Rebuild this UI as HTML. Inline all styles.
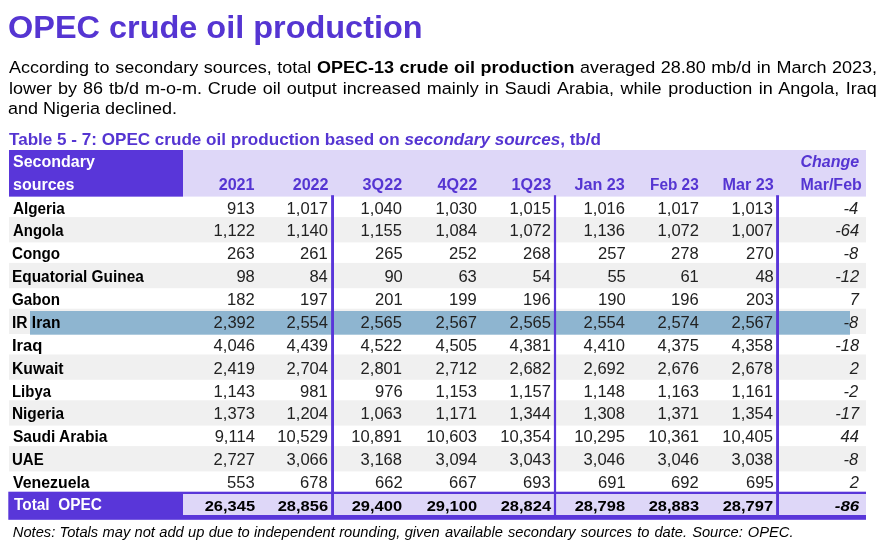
<!DOCTYPE html>
<html><head><meta charset="utf-8"><title>OPEC crude oil production</title>
<style>
html,body{margin:0;padding:0;background:#fff;}
body{width:883px;height:559px;position:relative;overflow:hidden;font-family:"Liberation Sans",sans-serif;color:#000;}
.bg{position:absolute;left:0;top:0;}
.t{position:absolute;white-space:nowrap;}
.bd{font-weight:bold;}
.it{font-style:italic;}
.bi{font-weight:bold;font-style:italic;}
</style></head><body>
<svg class="bg" width="883" height="559" viewBox="0 0 883 559">
<rect x="9.00" y="150.00" width="857.00" height="46.60" fill="#ded7f8"/>
<rect x="9.00" y="150.00" width="174.00" height="46.60" fill="#5936d9"/>
<rect x="9.00" y="217.10" width="857.00" height="25.30" fill="#f0f0f0"/>
<rect x="9.00" y="262.90" width="857.00" height="25.30" fill="#f0f0f0"/>
<rect x="9.00" y="308.70" width="857.00" height="25.30" fill="#f0f0f0"/>
<rect x="9.00" y="354.50" width="857.00" height="25.30" fill="#f0f0f0"/>
<rect x="9.00" y="400.30" width="857.00" height="25.30" fill="#f0f0f0"/>
<rect x="9.00" y="446.10" width="857.00" height="25.30" fill="#f0f0f0"/>
<rect x="30.00" y="311.00" width="820.00" height="23.70" fill="#8eb5d0"/>
<rect x="8.30" y="491.70" width="857.70" height="28.10" fill="#5936d9"/>
<rect x="183.00" y="494.00" width="683.00" height="21.00" fill="#ded7f8"/>
<rect x="331.10" y="195.20" width="2.90" height="323.80" fill="#5936d9"/>
<rect x="553.90" y="195.20" width="2.20" height="323.80" fill="#5936d9"/>
<rect x="776.10" y="195.20" width="2.90" height="323.80" fill="#5936d9"/>
</svg>
<div id="title" class="t bd" style="top:6.50px;font-size:31.5px;line-height:41px;left:8.40px;color:#5535d2;transform:scaleX(1.03);transform-origin:left center;">OPEC crude oil production</div>
<div id="p1" class="t " style="top:55.50px;font-size:17.4px;line-height:23px;left:8.60px;width:838.65px;text-align:justify;text-align-last:justify;transform:scaleX(1.035);transform-origin:left center;">According to secondary sources, total <b>OPEC-13 crude oil production</b> averaged 28.80 mb/d in March 2023,</div>
<div id="p2" class="t " style="top:76.50px;font-size:17.4px;line-height:23px;left:8.60px;width:523.48px;text-align:justify;text-align-last:justify;transform:scaleX(1.035);transform-origin:left center;">lower by 86 tb/d m-o-m. Crude oil output increased mainly in Saudi</div>
<div id="p2b" class="t " style="top:76.50px;font-size:17.4px;line-height:23px;left:556.70px;width:309.08px;text-align:justify;text-align-last:justify;transform:scaleX(1.035);transform-origin:left center;">Arabia, while production in Angola, Iraq</div>
<div id="p3" class="t " style="top:96.50px;font-size:17.4px;line-height:23px;left:8.30px;transform:scaleX(1.035);transform-origin:left center;">and Nigeria declined.</div>
<div id="cap" class="t bd" style="top:128.50px;font-size:16.2px;line-height:21px;left:8.90px;color:#5535d2;transform:scaleX(1.0552);transform-origin:left center;">Table 5 - 7: OPEC crude oil production based on <i>secondary sources</i>, tb/d</div>
<div id="h_sec" class="t bd" style="top:151.00px;font-size:16.0px;line-height:21px;left:13.00px;color:#fff;">Secondary</div>
<div id="h_src" class="t bd" style="top:174.00px;font-size:16.0px;line-height:21px;left:13.00px;color:#fff;">sources</div>
<div id="h0" class="t bd" style="top:174.00px;font-size:16.0px;line-height:21px;right:628.70px;color:#5535d2;transform:scaleX(1.01);transform-origin:right center;">2021</div>
<div id="h1" class="t bd" style="top:174.00px;font-size:16.0px;line-height:21px;right:554.20px;color:#5535d2;transform:scaleX(1.01);transform-origin:right center;">2022</div>
<div id="h2" class="t bd" style="top:174.00px;font-size:16.0px;line-height:21px;right:480.70px;color:#5535d2;transform:scaleX(1.01);transform-origin:right center;">3Q22</div>
<div id="h3" class="t bd" style="top:174.00px;font-size:16.0px;line-height:21px;right:406.20px;color:#5535d2;transform:scaleX(1.01);transform-origin:right center;">4Q22</div>
<div id="h4" class="t bd" style="top:174.00px;font-size:16.0px;line-height:21px;right:332.20px;color:#5535d2;transform:scaleX(1.01);transform-origin:right center;">1Q23</div>
<div id="h5" class="t bd" style="top:174.00px;font-size:16.0px;line-height:21px;right:258.00px;color:#5535d2;transform:scaleX(1.01);transform-origin:right center;">Jan 23</div>
<div id="h6" class="t bd" style="top:174.00px;font-size:16.0px;line-height:21px;right:184.00px;color:#5535d2;transform:scaleX(0.96);transform-origin:right center;">Feb 23</div>
<div id="h7" class="t bd" style="top:174.00px;font-size:16.0px;line-height:21px;right:109.70px;color:#5535d2;transform:scaleX(1.01);transform-origin:right center;">Mar 23</div>
<div id="h_chg" class="t bi" style="top:151.00px;font-size:16.0px;line-height:21px;right:23.90px;color:#5535d2;">Change</div>
<div id="h_mf" class="t bd" style="top:174.00px;font-size:16.0px;line-height:21px;right:21.20px;color:#5535d2;">Mar/Feb</div>
<div id="r0" class="t bd" style="top:198.00px;font-size:16.0px;line-height:21px;left:12.80px;color:#000;transform:scaleX(0.953);transform-origin:left center;">Algeria</div>
<div id="r0c0" class="t " style="top:198.00px;font-size:16.0px;line-height:21px;right:628.40px;color:#222;transform:scaleX(1.035);transform-origin:right center;">913</div>
<div id="r0c1" class="t " style="top:198.00px;font-size:16.0px;line-height:21px;right:555.00px;color:#222;transform:scaleX(1.035);transform-origin:right center;">1,017</div>
<div id="r0c2" class="t " style="top:198.00px;font-size:16.0px;line-height:21px;right:480.60px;color:#222;transform:scaleX(1.035);transform-origin:right center;">1,040</div>
<div id="r0c3" class="t " style="top:198.00px;font-size:16.0px;line-height:21px;right:406.10px;color:#222;transform:scaleX(1.035);transform-origin:right center;">1,030</div>
<div id="r0c4" class="t " style="top:198.00px;font-size:16.0px;line-height:21px;right:332.10px;color:#222;transform:scaleX(1.035);transform-origin:right center;">1,015</div>
<div id="r0c5" class="t " style="top:198.00px;font-size:16.0px;line-height:21px;right:257.60px;color:#222;transform:scaleX(1.035);transform-origin:right center;">1,016</div>
<div id="r0c6" class="t " style="top:198.00px;font-size:16.0px;line-height:21px;right:184.10px;color:#222;transform:scaleX(1.035);transform-origin:right center;">1,017</div>
<div id="r0c7" class="t " style="top:198.00px;font-size:16.0px;line-height:21px;right:109.60px;color:#222;transform:scaleX(1.035);transform-origin:right center;">1,013</div>
<div id="r0c8" class="t it" style="top:198.00px;font-size:16.0px;line-height:21px;right:24.30px;color:#222;transform:scaleX(1.03);transform-origin:right center;">-4</div>
<div id="r1" class="t bd" style="top:220.00px;font-size:16.0px;line-height:21px;left:12.80px;color:#000;transform:scaleX(0.9331);transform-origin:left center;">Angola</div>
<div id="r1c0" class="t " style="top:220.00px;font-size:16.0px;line-height:21px;right:628.40px;color:#222;transform:scaleX(1.035);transform-origin:right center;">1,122</div>
<div id="r1c1" class="t " style="top:220.00px;font-size:16.0px;line-height:21px;right:555.00px;color:#222;transform:scaleX(1.035);transform-origin:right center;">1,140</div>
<div id="r1c2" class="t " style="top:220.00px;font-size:16.0px;line-height:21px;right:480.60px;color:#222;transform:scaleX(1.035);transform-origin:right center;">1,155</div>
<div id="r1c3" class="t " style="top:220.00px;font-size:16.0px;line-height:21px;right:406.10px;color:#222;transform:scaleX(1.035);transform-origin:right center;">1,084</div>
<div id="r1c4" class="t " style="top:220.00px;font-size:16.0px;line-height:21px;right:332.10px;color:#222;transform:scaleX(1.035);transform-origin:right center;">1,072</div>
<div id="r1c5" class="t " style="top:220.00px;font-size:16.0px;line-height:21px;right:257.60px;color:#222;transform:scaleX(1.035);transform-origin:right center;">1,136</div>
<div id="r1c6" class="t " style="top:220.00px;font-size:16.0px;line-height:21px;right:184.10px;color:#222;transform:scaleX(1.035);transform-origin:right center;">1,072</div>
<div id="r1c7" class="t " style="top:220.00px;font-size:16.0px;line-height:21px;right:109.60px;color:#222;transform:scaleX(1.035);transform-origin:right center;">1,007</div>
<div id="r1c8" class="t it" style="top:220.00px;font-size:16.0px;line-height:21px;right:24.30px;color:#222;transform:scaleX(1.03);transform-origin:right center;">-64</div>
<div id="r2" class="t bd" style="top:243.00px;font-size:16.0px;line-height:21px;left:12.49px;color:#000;transform:scaleX(0.9492);transform-origin:left center;">Congo</div>
<div id="r2c0" class="t " style="top:243.00px;font-size:16.0px;line-height:21px;right:628.40px;color:#222;transform:scaleX(1.035);transform-origin:right center;">263</div>
<div id="r2c1" class="t " style="top:243.00px;font-size:16.0px;line-height:21px;right:555.00px;color:#222;transform:scaleX(1.035);transform-origin:right center;">261</div>
<div id="r2c2" class="t " style="top:243.00px;font-size:16.0px;line-height:21px;right:480.60px;color:#222;transform:scaleX(1.035);transform-origin:right center;">265</div>
<div id="r2c3" class="t " style="top:243.00px;font-size:16.0px;line-height:21px;right:406.10px;color:#222;transform:scaleX(1.035);transform-origin:right center;">252</div>
<div id="r2c4" class="t " style="top:243.00px;font-size:16.0px;line-height:21px;right:332.10px;color:#222;transform:scaleX(1.035);transform-origin:right center;">268</div>
<div id="r2c5" class="t " style="top:243.00px;font-size:16.0px;line-height:21px;right:257.60px;color:#222;transform:scaleX(1.035);transform-origin:right center;">257</div>
<div id="r2c6" class="t " style="top:243.00px;font-size:16.0px;line-height:21px;right:184.10px;color:#222;transform:scaleX(1.035);transform-origin:right center;">278</div>
<div id="r2c7" class="t " style="top:243.00px;font-size:16.0px;line-height:21px;right:109.60px;color:#222;transform:scaleX(1.035);transform-origin:right center;">270</div>
<div id="r2c8" class="t it" style="top:243.00px;font-size:16.0px;line-height:21px;right:24.30px;color:#222;transform:scaleX(1.03);transform-origin:right center;">-8</div>
<div id="r3" class="t bd" style="top:266.00px;font-size:16.0px;line-height:21px;left:12.18px;color:#000;transform:scaleX(0.9627);transform-origin:left center;">Equatorial Guinea</div>
<div id="r3c0" class="t " style="top:266.00px;font-size:16.0px;line-height:21px;right:628.40px;color:#222;transform:scaleX(1.035);transform-origin:right center;">98</div>
<div id="r3c1" class="t " style="top:266.00px;font-size:16.0px;line-height:21px;right:555.00px;color:#222;transform:scaleX(1.035);transform-origin:right center;">84</div>
<div id="r3c2" class="t " style="top:266.00px;font-size:16.0px;line-height:21px;right:480.60px;color:#222;transform:scaleX(1.035);transform-origin:right center;">90</div>
<div id="r3c3" class="t " style="top:266.00px;font-size:16.0px;line-height:21px;right:406.10px;color:#222;transform:scaleX(1.035);transform-origin:right center;">63</div>
<div id="r3c4" class="t " style="top:266.00px;font-size:16.0px;line-height:21px;right:332.10px;color:#222;transform:scaleX(1.035);transform-origin:right center;">54</div>
<div id="r3c5" class="t " style="top:266.00px;font-size:16.0px;line-height:21px;right:257.60px;color:#222;transform:scaleX(1.035);transform-origin:right center;">55</div>
<div id="r3c6" class="t " style="top:266.00px;font-size:16.0px;line-height:21px;right:184.10px;color:#222;transform:scaleX(1.035);transform-origin:right center;">61</div>
<div id="r3c7" class="t " style="top:266.00px;font-size:16.0px;line-height:21px;right:109.60px;color:#222;transform:scaleX(1.035);transform-origin:right center;">48</div>
<div id="r3c8" class="t it" style="top:266.00px;font-size:16.0px;line-height:21px;right:24.30px;color:#222;transform:scaleX(1.03);transform-origin:right center;">-12</div>
<div id="r4" class="t bd" style="top:289.00px;font-size:16.0px;line-height:21px;left:12.49px;color:#000;transform:scaleX(0.948);transform-origin:left center;">Gabon</div>
<div id="r4c0" class="t " style="top:289.00px;font-size:16.0px;line-height:21px;right:628.40px;color:#222;transform:scaleX(1.035);transform-origin:right center;">182</div>
<div id="r4c1" class="t " style="top:289.00px;font-size:16.0px;line-height:21px;right:555.00px;color:#222;transform:scaleX(1.035);transform-origin:right center;">197</div>
<div id="r4c2" class="t " style="top:289.00px;font-size:16.0px;line-height:21px;right:480.60px;color:#222;transform:scaleX(1.035);transform-origin:right center;">201</div>
<div id="r4c3" class="t " style="top:289.00px;font-size:16.0px;line-height:21px;right:406.10px;color:#222;transform:scaleX(1.035);transform-origin:right center;">199</div>
<div id="r4c4" class="t " style="top:289.00px;font-size:16.0px;line-height:21px;right:332.10px;color:#222;transform:scaleX(1.035);transform-origin:right center;">196</div>
<div id="r4c5" class="t " style="top:289.00px;font-size:16.0px;line-height:21px;right:257.60px;color:#222;transform:scaleX(1.035);transform-origin:right center;">190</div>
<div id="r4c6" class="t " style="top:289.00px;font-size:16.0px;line-height:21px;right:184.10px;color:#222;transform:scaleX(1.035);transform-origin:right center;">196</div>
<div id="r4c7" class="t " style="top:289.00px;font-size:16.0px;line-height:21px;right:109.60px;color:#222;transform:scaleX(1.035);transform-origin:right center;">203</div>
<div id="r4c8" class="t it" style="top:289.00px;font-size:16.0px;line-height:21px;right:24.30px;color:#222;transform:scaleX(1.03);transform-origin:right center;">7</div>
<div id="r5" class="t bd" style="top:312.00px;font-size:16.0px;line-height:21px;left:12.17px;color:#000;transform:scaleX(0.9717);transform-origin:left center;">IR Iran</div>
<div id="r5c0" class="t " style="top:312.00px;font-size:16.0px;line-height:21px;right:628.40px;color:#222;transform:scaleX(1.035);transform-origin:right center;">2,392</div>
<div id="r5c1" class="t " style="top:312.00px;font-size:16.0px;line-height:21px;right:555.00px;color:#222;transform:scaleX(1.035);transform-origin:right center;">2,554</div>
<div id="r5c2" class="t " style="top:312.00px;font-size:16.0px;line-height:21px;right:480.60px;color:#222;transform:scaleX(1.035);transform-origin:right center;">2,565</div>
<div id="r5c3" class="t " style="top:312.00px;font-size:16.0px;line-height:21px;right:406.10px;color:#222;transform:scaleX(1.035);transform-origin:right center;">2,567</div>
<div id="r5c4" class="t " style="top:312.00px;font-size:16.0px;line-height:21px;right:332.10px;color:#222;transform:scaleX(1.035);transform-origin:right center;">2,565</div>
<div id="r5c5" class="t " style="top:312.00px;font-size:16.0px;line-height:21px;right:257.60px;color:#222;transform:scaleX(1.035);transform-origin:right center;">2,554</div>
<div id="r5c6" class="t " style="top:312.00px;font-size:16.0px;line-height:21px;right:184.10px;color:#222;transform:scaleX(1.035);transform-origin:right center;">2,574</div>
<div id="r5c7" class="t " style="top:312.00px;font-size:16.0px;line-height:21px;right:109.60px;color:#222;transform:scaleX(1.035);transform-origin:right center;">2,567</div>
<div id="r5c8" class="t it" style="top:312.00px;font-size:16.0px;line-height:21px;right:24.30px;color:#222;transform:scaleX(1.03);transform-origin:right center;">-8</div>
<div id="r6" class="t bd" style="top:335.00px;font-size:16.0px;line-height:21px;left:12.11px;color:#000;transform:scaleX(1.0361);transform-origin:left center;">Iraq</div>
<div id="r6c0" class="t " style="top:335.00px;font-size:16.0px;line-height:21px;right:628.40px;color:#222;transform:scaleX(1.035);transform-origin:right center;">4,046</div>
<div id="r6c1" class="t " style="top:335.00px;font-size:16.0px;line-height:21px;right:555.00px;color:#222;transform:scaleX(1.035);transform-origin:right center;">4,439</div>
<div id="r6c2" class="t " style="top:335.00px;font-size:16.0px;line-height:21px;right:480.60px;color:#222;transform:scaleX(1.035);transform-origin:right center;">4,522</div>
<div id="r6c3" class="t " style="top:335.00px;font-size:16.0px;line-height:21px;right:406.10px;color:#222;transform:scaleX(1.035);transform-origin:right center;">4,505</div>
<div id="r6c4" class="t " style="top:335.00px;font-size:16.0px;line-height:21px;right:332.10px;color:#222;transform:scaleX(1.035);transform-origin:right center;">4,381</div>
<div id="r6c5" class="t " style="top:335.00px;font-size:16.0px;line-height:21px;right:257.60px;color:#222;transform:scaleX(1.035);transform-origin:right center;">4,410</div>
<div id="r6c6" class="t " style="top:335.00px;font-size:16.0px;line-height:21px;right:184.10px;color:#222;transform:scaleX(1.035);transform-origin:right center;">4,375</div>
<div id="r6c7" class="t " style="top:335.00px;font-size:16.0px;line-height:21px;right:109.60px;color:#222;transform:scaleX(1.035);transform-origin:right center;">4,358</div>
<div id="r6c8" class="t it" style="top:335.00px;font-size:16.0px;line-height:21px;right:24.30px;color:#222;transform:scaleX(1.03);transform-origin:right center;">-18</div>
<div id="r7" class="t bd" style="top:358.00px;font-size:16.0px;line-height:21px;left:12.16px;color:#000;transform:scaleX(0.9818);transform-origin:left center;">Kuwait</div>
<div id="r7c0" class="t " style="top:358.00px;font-size:16.0px;line-height:21px;right:628.40px;color:#222;transform:scaleX(1.035);transform-origin:right center;">2,419</div>
<div id="r7c1" class="t " style="top:358.00px;font-size:16.0px;line-height:21px;right:555.00px;color:#222;transform:scaleX(1.035);transform-origin:right center;">2,704</div>
<div id="r7c2" class="t " style="top:358.00px;font-size:16.0px;line-height:21px;right:480.60px;color:#222;transform:scaleX(1.035);transform-origin:right center;">2,801</div>
<div id="r7c3" class="t " style="top:358.00px;font-size:16.0px;line-height:21px;right:406.10px;color:#222;transform:scaleX(1.035);transform-origin:right center;">2,712</div>
<div id="r7c4" class="t " style="top:358.00px;font-size:16.0px;line-height:21px;right:332.10px;color:#222;transform:scaleX(1.035);transform-origin:right center;">2,682</div>
<div id="r7c5" class="t " style="top:358.00px;font-size:16.0px;line-height:21px;right:257.60px;color:#222;transform:scaleX(1.035);transform-origin:right center;">2,692</div>
<div id="r7c6" class="t " style="top:358.00px;font-size:16.0px;line-height:21px;right:184.10px;color:#222;transform:scaleX(1.035);transform-origin:right center;">2,676</div>
<div id="r7c7" class="t " style="top:358.00px;font-size:16.0px;line-height:21px;right:109.60px;color:#222;transform:scaleX(1.035);transform-origin:right center;">2,678</div>
<div id="r7c8" class="t it" style="top:358.00px;font-size:16.0px;line-height:21px;right:24.30px;color:#222;transform:scaleX(1.03);transform-origin:right center;">2</div>
<div id="r8" class="t bd" style="top:381.00px;font-size:16.0px;line-height:21px;left:12.20px;color:#000;transform:scaleX(0.933);transform-origin:left center;">Libya</div>
<div id="r8c0" class="t " style="top:381.00px;font-size:16.0px;line-height:21px;right:628.40px;color:#222;transform:scaleX(1.035);transform-origin:right center;">1,143</div>
<div id="r8c1" class="t " style="top:381.00px;font-size:16.0px;line-height:21px;right:555.00px;color:#222;transform:scaleX(1.035);transform-origin:right center;">981</div>
<div id="r8c2" class="t " style="top:381.00px;font-size:16.0px;line-height:21px;right:480.60px;color:#222;transform:scaleX(1.035);transform-origin:right center;">976</div>
<div id="r8c3" class="t " style="top:381.00px;font-size:16.0px;line-height:21px;right:406.10px;color:#222;transform:scaleX(1.035);transform-origin:right center;">1,153</div>
<div id="r8c4" class="t " style="top:381.00px;font-size:16.0px;line-height:21px;right:332.10px;color:#222;transform:scaleX(1.035);transform-origin:right center;">1,157</div>
<div id="r8c5" class="t " style="top:381.00px;font-size:16.0px;line-height:21px;right:257.60px;color:#222;transform:scaleX(1.035);transform-origin:right center;">1,148</div>
<div id="r8c6" class="t " style="top:381.00px;font-size:16.0px;line-height:21px;right:184.10px;color:#222;transform:scaleX(1.035);transform-origin:right center;">1,163</div>
<div id="r8c7" class="t " style="top:381.00px;font-size:16.0px;line-height:21px;right:109.60px;color:#222;transform:scaleX(1.035);transform-origin:right center;">1,161</div>
<div id="r8c8" class="t it" style="top:381.00px;font-size:16.0px;line-height:21px;right:24.30px;color:#222;transform:scaleX(1.03);transform-origin:right center;">-2</div>
<div id="r9" class="t bd" style="top:403.00px;font-size:16.0px;line-height:21px;left:12.18px;color:#000;transform:scaleX(0.9607);transform-origin:left center;">Nigeria</div>
<div id="r9c0" class="t " style="top:403.00px;font-size:16.0px;line-height:21px;right:628.40px;color:#222;transform:scaleX(1.035);transform-origin:right center;">1,373</div>
<div id="r9c1" class="t " style="top:403.00px;font-size:16.0px;line-height:21px;right:555.00px;color:#222;transform:scaleX(1.035);transform-origin:right center;">1,204</div>
<div id="r9c2" class="t " style="top:403.00px;font-size:16.0px;line-height:21px;right:480.60px;color:#222;transform:scaleX(1.035);transform-origin:right center;">1,063</div>
<div id="r9c3" class="t " style="top:403.00px;font-size:16.0px;line-height:21px;right:406.10px;color:#222;transform:scaleX(1.035);transform-origin:right center;">1,171</div>
<div id="r9c4" class="t " style="top:403.00px;font-size:16.0px;line-height:21px;right:332.10px;color:#222;transform:scaleX(1.035);transform-origin:right center;">1,344</div>
<div id="r9c5" class="t " style="top:403.00px;font-size:16.0px;line-height:21px;right:257.60px;color:#222;transform:scaleX(1.035);transform-origin:right center;">1,308</div>
<div id="r9c6" class="t " style="top:403.00px;font-size:16.0px;line-height:21px;right:184.10px;color:#222;transform:scaleX(1.035);transform-origin:right center;">1,371</div>
<div id="r9c7" class="t " style="top:403.00px;font-size:16.0px;line-height:21px;right:109.60px;color:#222;transform:scaleX(1.035);transform-origin:right center;">1,354</div>
<div id="r9c8" class="t it" style="top:403.00px;font-size:16.0px;line-height:21px;right:24.30px;color:#222;transform:scaleX(1.03);transform-origin:right center;">-17</div>
<div id="r10" class="t bd" style="top:426.00px;font-size:16.0px;line-height:21px;left:12.79px;color:#000;transform:scaleX(0.9713);transform-origin:left center;">Saudi Arabia</div>
<div id="r10c0" class="t " style="top:426.00px;font-size:16.0px;line-height:21px;right:628.40px;color:#222;transform:scaleX(1.035);transform-origin:right center;">9,114</div>
<div id="r10c1" class="t " style="top:426.00px;font-size:16.0px;line-height:21px;right:555.00px;color:#222;transform:scaleX(1.035);transform-origin:right center;">10,529</div>
<div id="r10c2" class="t " style="top:426.00px;font-size:16.0px;line-height:21px;right:480.60px;color:#222;transform:scaleX(1.035);transform-origin:right center;">10,891</div>
<div id="r10c3" class="t " style="top:426.00px;font-size:16.0px;line-height:21px;right:406.10px;color:#222;transform:scaleX(1.035);transform-origin:right center;">10,603</div>
<div id="r10c4" class="t " style="top:426.00px;font-size:16.0px;line-height:21px;right:332.10px;color:#222;transform:scaleX(1.035);transform-origin:right center;">10,354</div>
<div id="r10c5" class="t " style="top:426.00px;font-size:16.0px;line-height:21px;right:257.60px;color:#222;transform:scaleX(1.035);transform-origin:right center;">10,295</div>
<div id="r10c6" class="t " style="top:426.00px;font-size:16.0px;line-height:21px;right:184.10px;color:#222;transform:scaleX(1.035);transform-origin:right center;">10,361</div>
<div id="r10c7" class="t " style="top:426.00px;font-size:16.0px;line-height:21px;right:109.60px;color:#222;transform:scaleX(1.035);transform-origin:right center;">10,405</div>
<div id="r10c8" class="t it" style="top:426.00px;font-size:16.0px;line-height:21px;right:24.30px;color:#222;transform:scaleX(1.03);transform-origin:right center;">44</div>
<div id="r11" class="t bd" style="top:449.00px;font-size:16.0px;line-height:21px;left:12.20px;color:#000;transform:scaleX(0.9371);transform-origin:left center;">UAE</div>
<div id="r11c0" class="t " style="top:449.00px;font-size:16.0px;line-height:21px;right:628.40px;color:#222;transform:scaleX(1.035);transform-origin:right center;">2,727</div>
<div id="r11c1" class="t " style="top:449.00px;font-size:16.0px;line-height:21px;right:555.00px;color:#222;transform:scaleX(1.035);transform-origin:right center;">3,066</div>
<div id="r11c2" class="t " style="top:449.00px;font-size:16.0px;line-height:21px;right:480.60px;color:#222;transform:scaleX(1.035);transform-origin:right center;">3,168</div>
<div id="r11c3" class="t " style="top:449.00px;font-size:16.0px;line-height:21px;right:406.10px;color:#222;transform:scaleX(1.035);transform-origin:right center;">3,094</div>
<div id="r11c4" class="t " style="top:449.00px;font-size:16.0px;line-height:21px;right:332.10px;color:#222;transform:scaleX(1.035);transform-origin:right center;">3,043</div>
<div id="r11c5" class="t " style="top:449.00px;font-size:16.0px;line-height:21px;right:257.60px;color:#222;transform:scaleX(1.035);transform-origin:right center;">3,046</div>
<div id="r11c6" class="t " style="top:449.00px;font-size:16.0px;line-height:21px;right:184.10px;color:#222;transform:scaleX(1.035);transform-origin:right center;">3,046</div>
<div id="r11c7" class="t " style="top:449.00px;font-size:16.0px;line-height:21px;right:109.60px;color:#222;transform:scaleX(1.035);transform-origin:right center;">3,038</div>
<div id="r11c8" class="t it" style="top:449.00px;font-size:16.0px;line-height:21px;right:24.30px;color:#222;transform:scaleX(1.03);transform-origin:right center;">-8</div>
<div id="r12" class="t bd" style="top:472.00px;font-size:16.0px;line-height:21px;left:13.10px;color:#000;transform:scaleX(0.991);transform-origin:left center;">Venezuela</div>
<div id="r12c0" class="t " style="top:472.00px;font-size:16.0px;line-height:21px;right:628.40px;color:#222;transform:scaleX(1.035);transform-origin:right center;">553</div>
<div id="r12c1" class="t " style="top:472.00px;font-size:16.0px;line-height:21px;right:555.00px;color:#222;transform:scaleX(1.035);transform-origin:right center;">678</div>
<div id="r12c2" class="t " style="top:472.00px;font-size:16.0px;line-height:21px;right:480.60px;color:#222;transform:scaleX(1.035);transform-origin:right center;">662</div>
<div id="r12c3" class="t " style="top:472.00px;font-size:16.0px;line-height:21px;right:406.10px;color:#222;transform:scaleX(1.035);transform-origin:right center;">667</div>
<div id="r12c4" class="t " style="top:472.00px;font-size:16.0px;line-height:21px;right:332.10px;color:#222;transform:scaleX(1.035);transform-origin:right center;">693</div>
<div id="r12c5" class="t " style="top:472.00px;font-size:16.0px;line-height:21px;right:257.60px;color:#222;transform:scaleX(1.035);transform-origin:right center;">691</div>
<div id="r12c6" class="t " style="top:472.00px;font-size:16.0px;line-height:21px;right:184.10px;color:#222;transform:scaleX(1.035);transform-origin:right center;">692</div>
<div id="r12c7" class="t " style="top:472.00px;font-size:16.0px;line-height:21px;right:109.60px;color:#222;transform:scaleX(1.035);transform-origin:right center;">695</div>
<div id="r12c8" class="t it" style="top:472.00px;font-size:16.0px;line-height:21px;right:24.30px;color:#222;transform:scaleX(1.03);transform-origin:right center;">2</div>
<div id="tot" class="t bd" style="top:494.00px;font-size:16.0px;line-height:21px;left:13.60px;color:#fff;transform:scaleX(0.962);transform-origin:left center;">Total&nbsp; OPEC</div>
<div id="tc0" class="t bd" style="top:495.50px;font-size:15.4px;line-height:20px;right:628.30px;color:#000;transform:scaleX(1.07);transform-origin:right center;">26,345</div>
<div id="tc1" class="t bd" style="top:495.50px;font-size:15.4px;line-height:20px;right:554.90px;color:#000;transform:scaleX(1.07);transform-origin:right center;">28,856</div>
<div id="tc2" class="t bd" style="top:495.50px;font-size:15.4px;line-height:20px;right:480.50px;color:#000;transform:scaleX(1.07);transform-origin:right center;">29,400</div>
<div id="tc3" class="t bd" style="top:495.50px;font-size:15.4px;line-height:20px;right:406.00px;color:#000;transform:scaleX(1.07);transform-origin:right center;">29,100</div>
<div id="tc4" class="t bd" style="top:495.50px;font-size:15.4px;line-height:20px;right:332.00px;color:#000;transform:scaleX(1.07);transform-origin:right center;">28,824</div>
<div id="tc5" class="t bd" style="top:495.50px;font-size:15.4px;line-height:20px;right:257.50px;color:#000;transform:scaleX(1.07);transform-origin:right center;">28,798</div>
<div id="tc6" class="t bd" style="top:495.50px;font-size:15.4px;line-height:20px;right:184.00px;color:#000;transform:scaleX(1.07);transform-origin:right center;">28,883</div>
<div id="tc7" class="t bd" style="top:495.50px;font-size:15.4px;line-height:20px;right:109.50px;color:#000;transform:scaleX(1.07);transform-origin:right center;">28,797</div>
<div id="tc8" class="t bi" style="top:495.50px;font-size:15.4px;line-height:20px;right:24.00px;color:#000;transform:scaleX(1.098);transform-origin:right center;">-86</div>
<div id="notes" class="t it" style="top:522.50px;font-size:14.7px;line-height:19px;left:12.80px;color:#000;width:427.00px;text-align:justify;text-align-last:justify;">Notes: Totals may not add up due to independent rounding, given</div>
<div id="notes2" class="t it" style="top:522.50px;font-size:14.7px;line-height:19px;left:444.90px;color:#000;width:348.60px;text-align:justify;text-align-last:justify;">available secondary sources to date. Source: OPEC.</div>
</body></html>
